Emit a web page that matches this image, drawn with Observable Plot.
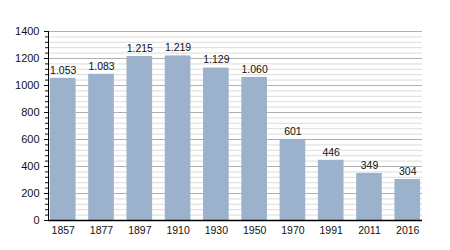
<!DOCTYPE html>
<html><head><meta charset="utf-8">
<script src="https://cdn.jsdelivr.net/npm/d3@7"></script>
<script src="https://cdn.jsdelivr.net/npm/@observablehq/plot@0.6"></script>
<style>body{margin:0;background:#fff;} svg{font-family:"Liberation Sans",Arial,sans-serif;}</style>
</head><body><div id="chart"></div>
<script>
const years = ["1857","1877","1897","1910","1930","1950","1970","1991","2011","2016"];
const population = [1053,1083,1215,1219,1129,1060,601,446,349,304];
const majorTicks = [0,200,400,600,800,1000,1200,1400];
const minorTicks = d3.range(0,1401,40);

const data = years.map((y,i)=>({year:y, value:population[i]}));
const fmt = d3.formatLocale({decimal:",", thousands:".", grouping:[3], currency:["","€"]}).format(",d");

const chart = Plot.plot({
  width:450, height:250,
  marginLeft:48, marginRight:28, marginTop:31, marginBottom:30,
  style:{fontFamily:"'Liberation Sans', Arial, sans-serif", fontSize:"10.5px", color:"#111", background:"#fff"},
  x:{domain:years, paddingInner:0.33, paddingOuter:0.05, round:false, label:null},
  y:{domain:[0,1400], label:null},
  marks:[
    Plot.ruleY(minorTicks,{stroke:"#dcdcdc", strokeWidth:1}),
    Plot.ruleY(majorTicks,{stroke:"#b0b0b0", strokeWidth:1}),
    Plot.barY(data,{x:"year", y:"value", fill:"#9bb1cc"}),
    Plot.text(data,{x:"year", y:"value", text:d=>fmt(d.value), dy:-8, fill:"#111", fontSize:10.5}),
    Plot.axisY({ticks:minorTicks, tickFormat:null, tickSize:3, label:null, text:null}),
    Plot.axisY({ticks:majorTicks, tickFormat:d3.format("d"), tickSize:4, tickPadding:5, fontSize:11, label:null}),
    Plot.axisX({tickSize:0, tickPadding:6, label:null}),
    Plot.frame({anchor:"left", stroke:"#000"}),
    Plot.ruleY([0],{stroke:"#000", strokeWidth:1.5})
  ]
});
document.getElementById("chart").appendChild(chart);
</script></body></html>
